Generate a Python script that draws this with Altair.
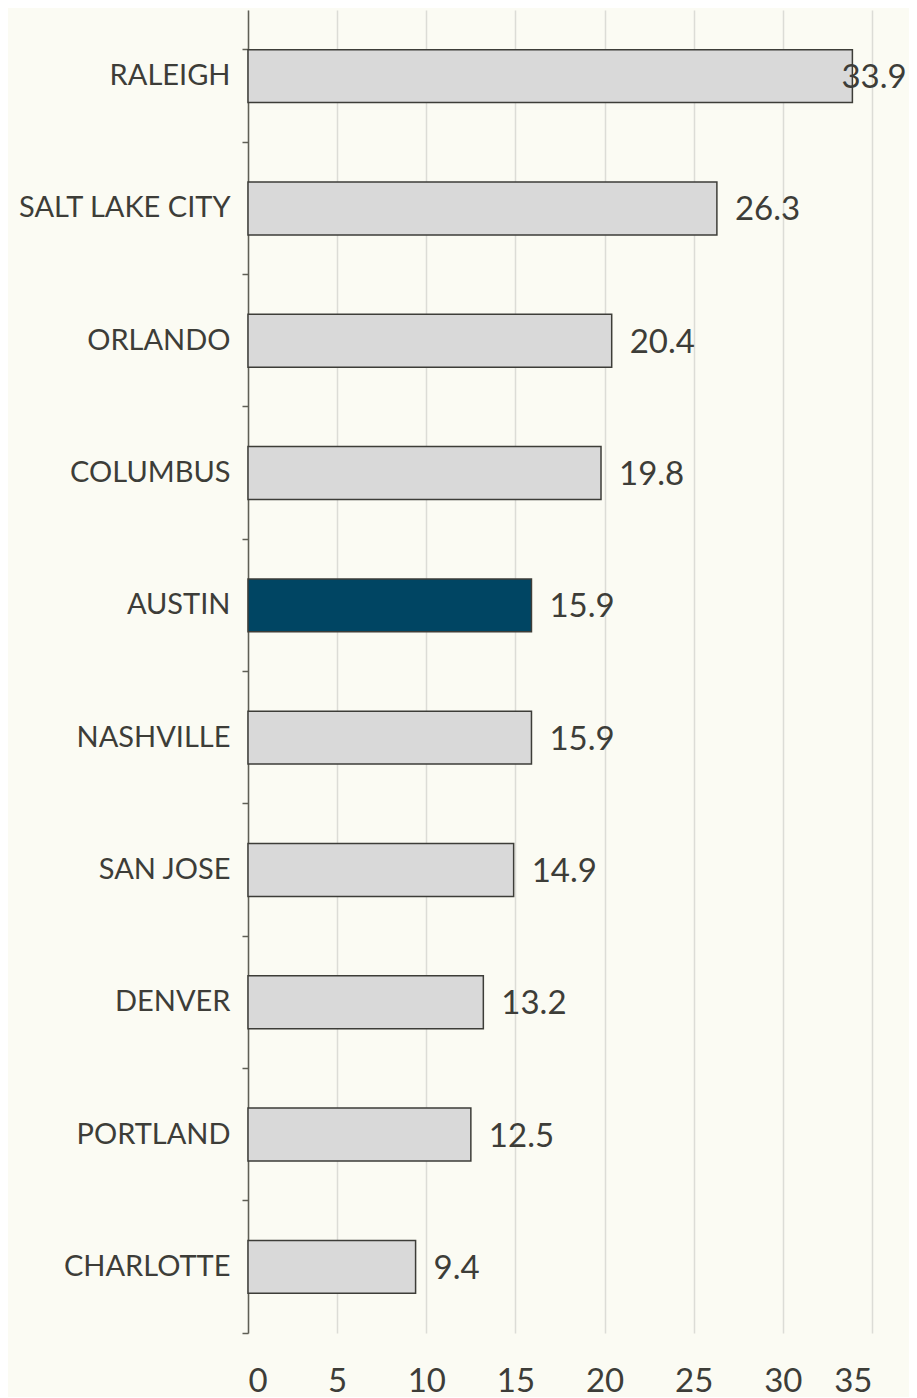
import altair as alt
import pandas as pd

cities = ["RALEIGH", "SALT LAKE CITY", "ORLANDO", "COLUMBUS", "AUSTIN",
          "NASHVILLE", "SAN JOSE", "DENVER", "PORTLAND", "CHARLOTTE"]
values = [33.9, 26.3, 20.4, 19.8, 15.9, 15.9, 14.9, 13.2, 12.5, 9.4]
highlight = ["no", "no", "no", "no", "yes", "no", "no", "no", "no", "no"]
x_ticks = [0, 5, 10, 15, 20, 25, 30, 35]

df = pd.DataFrame({"city": cities, "value": values, "hl": highlight})
df["label"] = df["value"].map(lambda v: f"{v:.1f}")

FONT = "Lato"
TEXT = "#3d3d38"

y_enc = alt.Y("city:N", sort=cities, title=None,
              scale=alt.Scale(paddingInner=0.6, paddingOuter=0.3),
              axis=alt.Axis(labelFont=FONT, labelFontSize=29, labelColor=TEXT,
                            labelPadding=12, labelLimit=400, domainColor="#5f5f55",
                            domainWidth=1.5, tickColor="#5f5f55", tickSize=6, tickWidth=1.5,
                            bandPosition=1.75, tickExtra=True, grid=False))

x_enc = alt.X("value:Q", title=None,
              scale=alt.Scale(domain=[0, 35], nice=False, zero=True),
              axis=alt.Axis(values=x_ticks, labelFont=FONT, labelFontSize=33,
                            labelColor=TEXT, labelPadding=32, domain=False,
                            ticks=False, grid=True, gridColor="#dcdcd6", gridWidth=1.5))

bars = alt.Chart(df).mark_bar(stroke="#3d3d38", strokeWidth=1.5).encode(
    y=y_enc,
    x=x_enc,
    color=alt.Color("hl:N", scale=alt.Scale(domain=["no", "yes"], range=["#d9d9d9", "#004563"]),
                    legend=None),
)

labels = alt.Chart(df).transform_filter("datum.value < 30").mark_text(
    align="left", baseline="middle", dx=18, dy=2, font=FONT, fontSize=33, color=TEXT
).encode(y=alt.Y("city:N", sort=cities), x="value:Q", text="label:N")

labels_top = alt.Chart(df).transform_filter("datum.value >= 30").mark_text(
    align="left", baseline="middle", dx=-11, dy=2, font=FONT, fontSize=33, color=TEXT
).encode(y=alt.Y("city:N", sort=cities), x="value:Q", text="label:N")

chart = alt.layer(bars, labels, labels_top).properties(
    width=624, height=1323,
    background="#fbfbf3",
    autosize=alt.AutoSizeParams(type="none"),
    padding={"left": 240, "top": 2, "right": 37, "bottom": 64},
).configure_view(stroke=None)

chart.save("out.html", embed_options={"renderer": "svg", "actions": False})
